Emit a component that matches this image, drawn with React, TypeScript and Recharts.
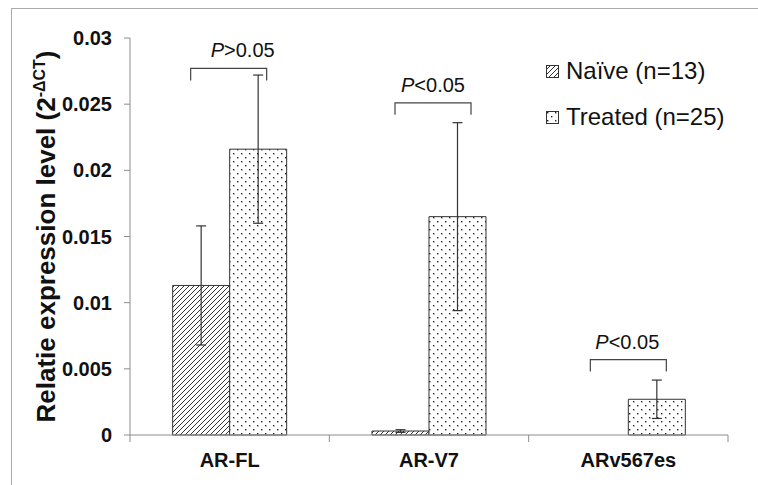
import React from "react";
import { BarChart, Bar, XAxis, YAxis, ErrorBar, Legend, ReferenceDot, Label } from "recharts";

const categories = ["AR-FL", "AR-V7", "ARv567es"];
const naiveValues = [0.0113, 0.0003, 0];
const naiveErrors = [0.0045, 0.0001, 0];
const treatedValues = [0.0216, 0.0165, 0.0027];
const treatedErrors = [0.0056, 0.0071, 0.00145];
const yTicks = [0, 0.005, 0.01, 0.015, 0.02, 0.025, 0.03];
const pLabels = ["P>0.05", "P<0.05", "P<0.05"];
const bracketLevels = [0.0277, 0.0251, 0.0057];

const data = categories.map((name, i) => ({
  name,
  naive: naiveValues[i],
  naiveErr: naiveErrors[i],
  treated: treatedValues[i],
  treatedErr: treatedErrors[i],
}));

const FONT = '"Liberation Sans", Arial, sans-serif';
const AXIS = "#8c8c8c";
const INK = "#111";
const X_TICK_SIZE = 7;
const X_TICK_MARGIN = 11;
// small hand nudges of the bracket / text, as in the original figure
const BRACKET_DX = [-1, 4, 0];
const TEXT_DX = [13, 4, -1];

const XTick = (props: any) => {
  const { x, y, payload, index } = props;
  const half = payload.offset || 0;
  const axisY = y - X_TICK_SIZE - X_TICK_MARGIN;
  return (
    <g>
      <line x1={x - half} x2={x - half} y1={axisY} y2={axisY + X_TICK_SIZE} stroke={AXIS} />
      {index === categories.length - 1 && (
        <line x1={x + half} x2={x + half} y1={axisY} y2={axisY + X_TICK_SIZE} stroke={AXIS} />
      )}
      <text x={x} y={y} dy="0.71em" textAnchor="middle" fontSize={20} fontWeight="bold" fill={INK} fontFamily={FONT}>
        {payload.value}
      </text>
    </g>
  );
};

const YLabel = (props: any) => {
  const vb = props.viewBox || { x: 0, y: 38, width: 130, height: 397 };
  const cy = vb.y + vb.height / 2;
  const x = 55;
  return (
    <text
      x={x}
      y={cy}
      transform={`rotate(-90 ${x} ${cy})`}
      textAnchor="middle"
      fontSize={26}
      fontWeight="bold"
      fill={INK}
      fontFamily={FONT}
    >
      Relatie expression level (2
      <tspan dy={-10} fontSize={16}>-ΔCT</tspan>
      <tspan dy={10}>)</tspan>
    </text>
  );
};

const bracketShape = (i: number) => (props: any) => {
  const { cx, cy } = props;
  const bx = cx + BRACKET_DX[i];
  const half = 38;
  const leg = 12;
  const label = pLabels[i];
  return (
    <g>
      <path
        d={`M${bx - half},${cy + leg} L${bx - half},${cy} L${bx + half},${cy} L${bx + half},${cy + leg}`}
        fill="none"
        stroke="#444"
        strokeWidth={1.2}
      />
      <text x={cx + TEXT_DX[i]} y={cy - 11} textAnchor="middle" fontSize={20} fill={INK} fontFamily={FONT}>
        <tspan fontStyle="italic">{label.slice(0, 1)}</tspan>
        {label.slice(1)}
      </text>
    </g>
  );
};

const LegendBox = (props: any) => {
  const items = props.payload || [];
  return (
    <div style={{ fontFamily: FONT, fontSize: 24, color: INK }}>
      {items.map((it: any) => (
        <div key={it.value} style={{ display: "flex", alignItems: "center", height: 46, whiteSpace: "nowrap" }}>
          <svg width={13} height={13} style={{ marginRight: 7 }}>
            <rect x={0.5} y={0.5} width={12} height={12} fill={it.color} stroke="#333" />
          </svg>
          {it.value}
        </div>
      ))}
    </div>
  );
};

export default function App() {
  return (
    <div style={{ position: "absolute", left: 0, top: 0, width: 758, height: 485, background: "#fff", overflow: "hidden" }}>
      <div style={{ position: "absolute", left: 11, top: 8, width: 800, height: 520, border: "1px solid #aaa" }} />
      <BarChart
        width={758}
        height={485}
        data={data}
        margin={{ top: 38, right: 30, bottom: 0, left: 0 }}
        barGap={0}
        barCategoryGap="21.4%"
      >
        <defs>
          <pattern id="hatch" patternUnits="userSpaceOnUse" width={5} height={5}>
            <rect width={5} height={5} fill="#fff" />
            <path d="M-1,1 L1,-1 M0,5 L5,0 M4,6 L6,4" stroke="#333" strokeWidth={1} />
          </pattern>
          <pattern id="dots" patternUnits="userSpaceOnUse" width={8} height={8}>
            <rect width={8} height={8} fill="#fff" />
            <rect x={1} y={1} width={1.4} height={1.4} fill="#222" />
            <rect x={5} y={5} width={1.4} height={1.4} fill="#222" />
          </pattern>
        </defs>
        <XAxis
          dataKey="name"
          height={50}
          stroke={AXIS}
          tickLine={false}
          tickSize={X_TICK_SIZE}
          tickMargin={X_TICK_MARGIN}
          interval={0}
          tick={<XTick />}
        />
        <YAxis
          width={130}
          domain={[0, 0.03]}
          ticks={yTicks}
          stroke={AXIS}
          tickSize={6}
          tickMargin={12}
          tick={{ fontSize: 20, fontWeight: "bold", fill: INK, fontFamily: FONT }}
          tickFormatter={(v: number) => String(v)}
        >
          <Label content={<YLabel />} />
        </YAxis>
        <Legend
          layout="vertical"
          align="center"
          verticalAlign="middle"
          wrapperStyle={{ left: 546, top: 48, width: 210 }}
          content={<LegendBox />}
        />
        <Bar dataKey="naive" name="Naïve (n=13)" fill="url(#hatch)" stroke="#333" strokeWidth={1} isAnimationActive={false}>
          <ErrorBar dataKey="naiveErr" width={5} stroke="#333" strokeWidth={1.2} />
        </Bar>
        <Bar dataKey="treated" name="Treated (n=25)" fill="url(#dots)" stroke="#333" strokeWidth={1} isAnimationActive={false}>
          <ErrorBar dataKey="treatedErr" width={5} stroke="#333" strokeWidth={1.2} />
        </Bar>
        {categories.map((c, i) => (
          <ReferenceDot key={c} x={c} y={bracketLevels[i]} r={0} shape={bracketShape(i)} ifOverflow="visible" />
        ))}
      </BarChart>
    </div>
  );
}
